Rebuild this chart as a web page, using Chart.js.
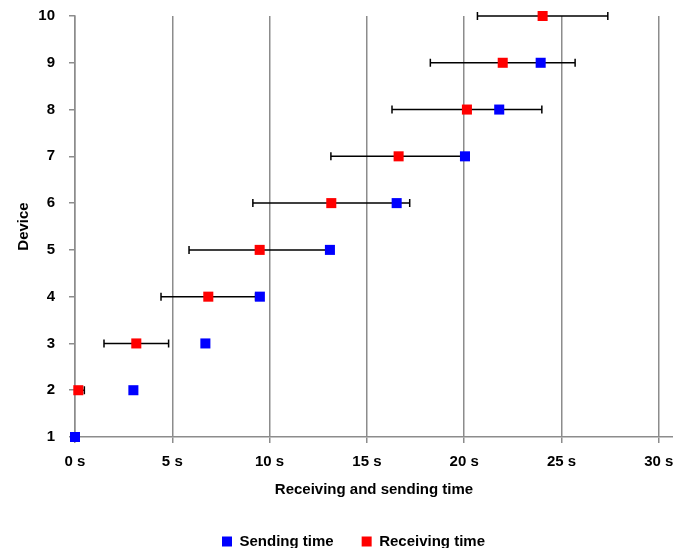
<!DOCTYPE html>
<html>
<head>
<meta charset="utf-8">
<script src="https://cdn.jsdelivr.net/npm/chart.js@4"></script>
<style>
  html, body { margin: 0; padding: 0; background: #ffffff; }
  #wrap { width: 673px; height: 548px; }
</style>
</head>
<body>
<div id="wrap"><canvas id="c" width="673" height="548"></canvas></div>
<script>
// ---- data ----
const devices       = [1, 2, 3, 4, 5, 6, 7, 8, 9, 10];
const xTickValues   = [0, 5, 10, 15, 20, 25, 30];
const seriesNames   = ['Sending time', 'Receiving time'];
// sending time per device (device 10 has none)
const sendDevices   = [1, 2, 3, 4, 5, 6, 7, 8, 9];
const sendTimes     = [0, 3.0, 6.7, 9.5, 13.1, 16.53, 20.04, 21.8, 23.93];
// receiving time per device (device 1 has none)
const recvDevices   = [2, 3, 4, 5, 6, 7, 8, 9, 10];
const recvTimes     = [0.17, 3.15, 6.85, 9.49, 13.17, 16.63, 20.14, 21.98, 24.03];
// horizontal error (+/-) on receiving time
const recvErrors    = [0.31, 1.66, 2.43, 3.63, 4.03, 3.48, 3.85, 3.72, 3.35];

const FONT = "'Liberation Sans', Arial, sans-serif";
Chart.defaults.font.family = FONT;
Chart.defaults.color = '#000000';

const gridGray = '#8c8c8c';

const errorBarPlugin = {
  id: 'errorBars',
  beforeDatasetsDraw(chart) {
    const {ctx, scales: {x, y}, chartArea} = chart;
    ctx.save();
    ctx.beginPath();
    ctx.rect(chartArea.left, 0, chart.width - chartArea.left, chart.height);
    ctx.clip();
    ctx.strokeStyle = '#000000';
    ctx.lineWidth = 1.5;
    const cap = 4;
    recvTimes.forEach((t, i) => {
      const py = y.getPixelForValue(recvDevices[i]);
      const x0 = x.getPixelForValue(t - recvErrors[i]);
      const x1 = x.getPixelForValue(t + recvErrors[i]);
      ctx.beginPath();
      ctx.moveTo(x0, py); ctx.lineTo(x1, py);
      ctx.moveTo(x0, py - cap); ctx.lineTo(x0, py + cap);
      ctx.moveTo(x1, py - cap); ctx.lineTo(x1, py + cap);
      ctx.stroke();
    });
    ctx.restore();
  }
};

const legendShift = {
  id: 'legendShift',
  afterLayout(chart) {
    const lg = chart.legend;
    if (!lg) return;
    const dx = 17;
    const dy = 506 - lg.top;
    lg.left += dx; lg.right += dx;
    lg.top += dy; lg.bottom += dy;
  }
};

function zeroPad(scale) {
  scale.paddingTop = 0; scale.paddingBottom = 0;
  scale.paddingLeft = 0; scale.paddingRight = 0;
}

new Chart(document.getElementById('c'), {
  type: 'scatter',
  data: {
    datasets: [
      {
        label: seriesNames[0],
        data: sendTimes.map((t, i) => ({x: t, y: sendDevices[i]})),
        backgroundColor: '#0000ff',
        borderColor: '#0000ff',
        borderWidth: 0,
        pointStyle: 'rect',
        pointRadius: 7.1,
        pointHoverRadius: 7.1,
        clip: false
      },
      {
        label: seriesNames[1],
        data: recvTimes.map((t, i) => ({x: t, y: recvDevices[i]})),
        backgroundColor: '#ff0000',
        borderColor: '#ff0000',
        borderWidth: 0,
        pointStyle: 'rect',
        pointRadius: 7.1,
        pointHoverRadius: 7.1,
        clip: false
      }
    ]
  },
  options: {
    responsive: false,
    animation: false,
    events: [],
    layout: { autoPadding: false, padding: { top: 16, left: 0, right: 0, bottom: -4 } },
    plugins: {
      tooltip: { enabled: false },
      legend: {
        position: 'bottom',
        labels: {
          boxWidth: 10,
          boxHeight: 10,
          padding: 28,
          color: '#000000',
          font: { size: 15, weight: 'bold', family: FONT }
        }
      }
    },
    scales: {
      x: {
        type: 'linear',
        min: 0,
        max: 30.73,
        afterBuildTicks(scale) { scale.ticks = xTickValues.map(v => ({value: v})); },
        afterFit(scale) { scale.height = 62; zeroPad(scale); },
        ticks: {
          padding: 10,
          maxRotation: 0,
          color: '#000000',
          font: { size: 15, weight: 'bold', family: FONT },
          callback: (v) => v + ' s'
        },
        grid: {
          display: true,
          drawOnChartArea: true,
          drawTicks: true,
          tickLength: 6,
          color: gridGray,
          lineWidth: 1.5
        },
        border: { display: true, color: gridGray, width: 1.5 },
        title: {
          display: true,
          text: 'Receiving and sending time',
          color: '#000000',
          padding: { top: 0, bottom: 0 },
          font: { size: 15, weight: 'bold', family: FONT }
        }
      },
      y: {
        type: 'linear',
        min: 1,
        max: 10,
        afterBuildTicks(scale) { scale.ticks = devices.map(v => ({value: v})); },
        afterFit(scale) { scale.width = 75; zeroPad(scale); },
        ticks: {
          padding: 14,
          color: '#000000',
          font: { size: 15, weight: 'bold', family: FONT }
        },
        grid: {
          display: true,
          drawOnChartArea: false,
          drawTicks: true,
          tickLength: 6,
          color: gridGray,
          lineWidth: 1.5
        },
        border: { display: true, color: gridGray, width: 1.5 },
        title: {
          display: true,
          text: 'Device',
          color: '#000000',
          padding: { top: 15, bottom: 0 },
          font: { size: 15, weight: 'bold', family: FONT }
        }
      }
    }
  },
  plugins: [errorBarPlugin, legendShift]
});
</script>
</body>
</html>
